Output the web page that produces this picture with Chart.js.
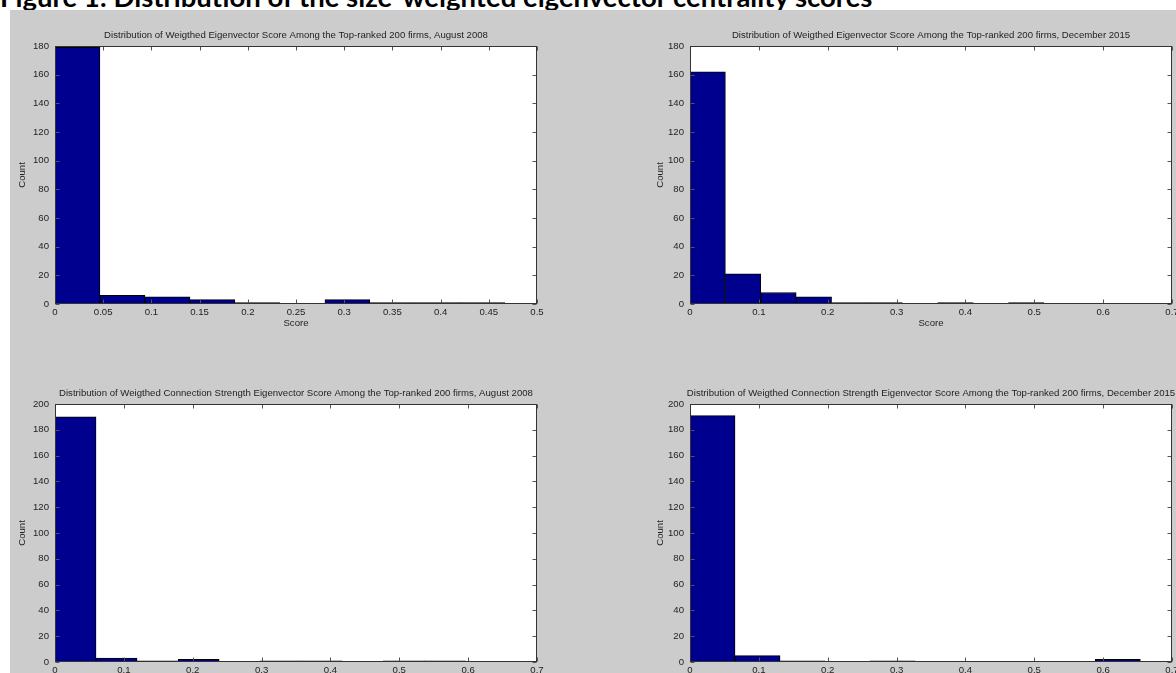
<!DOCTYPE html>
<html>
<head>
<meta charset="utf-8">
<title>Figure 1</title>
<script src="https://cdn.jsdelivr.net/npm/chart.js@4.4.1/dist/chart.umd.min.js"></script>
<style>
    body { margin: 0; width: 1176px; height: 673px; overflow: hidden; background: #fff; position: relative; }
    #heading { position: absolute; left: 0; top: -17px; font: bold 27.5px Lato, sans-serif; line-height: 27px; white-space: nowrap; color: #000; }
    #figure { position: absolute; left: 10px; top: 10px; width: 1166px; height: 663px; background: #cccccc; }
    canvas { position: absolute; }
    #c1 { left: 10px; top: 10px; }
    #c2 { left: 648px; top: 10px; }
    #c3 { left: 10px; top: 360px; }
    #c4 { left: 648px; top: 360px; }
</style>
</head>
<body>
<div id="heading">Figure 1: Distribution of the size-weighted eigenvector centrality scores</div>
<div id="figure"></div>
<canvas id="c1" width="590" height="340"></canvas>
<canvas id="c2" width="528" height="340"></canvas>
<canvas id="c3" width="590" height="313"></canvas>
<canvas id="c4" width="528" height="313"></canvas>
<script>
    // histogram bins (centres) and counts
    const aug2008EigCenters = [0.0233, 0.0700, 0.1167, 0.1633, 0.2100, 0.2567, 0.3033, 0.3500, 0.3967, 0.4433];
    const aug2008EigCounts  = [179, 6, 5, 3, 1, 0, 3, 1, 1, 1];

    const dec2015EigCenters = [0.0257, 0.0771, 0.1285, 0.1799, 0.2313, 0.2827, 0.3341, 0.3855, 0.4369, 0.4883];
    const dec2015EigCounts  = [162, 21, 8, 5, 1, 1, 0, 1, 0, 1];

    const aug2008ConnCenters = [0.0298, 0.0894, 0.1490, 0.2086, 0.2682, 0.3278, 0.3874, 0.4470, 0.5066, 0.5662];
    const aug2008ConnCounts  = [190, 3, 1, 2, 0, 1, 1, 0, 1, 1];

    const dec2015ConnCenters = [0.0327, 0.0981, 0.1635, 0.2289, 0.2943, 0.3597, 0.4251, 0.4905, 0.5559, 0.6213];
    const dec2015ConnCounts  = [191, 5, 1, 0, 1, 0, 0, 0, 0, 2];

    const panelTitles = [
        'Distribution of Weigthed Eigenvector Score Among the Top-ranked 200 firms, August 2008',
        'Distribution of Weigthed Eigenvector Score Among the Top-ranked 200 firms, December 2015',
        'Distribution of Weigthed Connection Strength Eigenvector Score Among the Top-ranked 200 firms, August 2008',
        'Distribution of Weigthed Connection Strength Eigenvector Score Among the Top-ranked 200 firms, December 2015'
    ];

    // axis limits / tick steps
    const xMax   = [0.5, 0.7, 0.7, 0.7];
    const xStep  = [0.05, 0.1, 0.1, 0.1];
    const yMax   = [180, 180, 200, 200];
    const yStep  = [20, 20, 20, 20];

    const FONT = 'Liberation Sans, Arial, sans-serif';
    const FONT_SIZE = 9.6;
    const TEXT = '#1e1e1e';
    const BAR = '#00008f';

    Chart.defaults.font.family = FONT;
    Chart.defaults.font.size = FONT_SIZE;
    Chart.defaults.color = TEXT;

    // white axes box, inward ticks on all four sides and the axes title (MATLAB look)
    const matlabAxes = {
        id: 'matlabAxes',
        beforeDatasetsDraw(chart) {
            const { ctx, chartArea: a } = chart;
            ctx.save();
            ctx.fillStyle = '#fff';
            ctx.fillRect(a.left, a.top, a.right - a.left, a.bottom - a.top);
            ctx.restore();
        },
        afterDatasetsDraw(chart, args, opts) {
            const { ctx, chartArea: a, scales: { x, y } } = chart;
            const tl = 4;
            const L = Math.round(a.left) + 0.5, R = Math.round(a.right) - 0.5;
            const T = Math.round(a.top) + 0.5, B = Math.round(a.bottom) - 0.5;
            ctx.save();
            ctx.lineWidth = 1;
            ctx.strokeStyle = '#555';
            ctx.beginPath();
            x.ticks.forEach(t => {
                const px = Math.round(x.getPixelForValue(t.value)) + 0.5;
                ctx.moveTo(px, B); ctx.lineTo(px, B - tl);
                ctx.moveTo(px, T); ctx.lineTo(px, T + tl);
            });
            y.ticks.forEach(t => {
                const py = Math.round(y.getPixelForValue(t.value)) + 0.5;
                ctx.moveTo(L, py); ctx.lineTo(L + tl, py);
                ctx.moveTo(R, py); ctx.lineTo(R - tl, py);
            });
            ctx.stroke();
            ctx.strokeStyle = '#333';
            ctx.strokeRect(L, T, R - L, B - T);

            ctx.fillStyle = TEXT;
            ctx.font = FONT_SIZE + 'px ' + FONT;
            ctx.textAlign = 'center';
            ctx.textBaseline = 'middle';
            ctx.fillText(opts.title, (a.left + a.right) / 2, a.top - 10.5);
            ctx.restore();
        }
    };

    function makePanel(id, i, centers, counts, layout) {
        return new Chart(document.getElementById(id), {
            type: 'bar',
            data: {
                datasets: [{
                    data: centers.map((c, k) => ({ x: c, y: counts[k] })),
                    backgroundColor: BAR,
                    borderColor: '#000',
                    borderWidth: 1,
                    borderSkipped: false,
                    barPercentage: 1,
                    categoryPercentage: 1
                }]
            },
            options: {
                responsive: false,
                animation: false,
                events: [],
                layout: { padding: layout.padding },
                plugins: {
                    legend: { display: false },
                    tooltip: { enabled: false },
                    matlabAxes: { title: panelTitles[i] }
                },
                scales: {
                    x: {
                        type: 'linear',
                        offset: false,
                        min: 0,
                        max: xMax[i],
                        grid: { display: false, drawTicks: false, offset: false },
                        border: { display: false },
                        ticks: {
                            stepSize: xStep[i],
                            padding: 3,
                            autoSkip: false,
                            maxRotation: 0,
                            color: TEXT,
                            callback: v => parseFloat(v.toFixed(2))
                        },
                        title: {
                            display: layout.scoreLabel,
                            text: 'Score',
                            color: TEXT,
                            padding: { top: 0, bottom: 21 }
                        },
                        afterFit: s => { s.height = layout.xHeight; s.paddingLeft = 0; s.paddingRight = 0; }
                    },
                    y: {
                        min: 0,
                        max: yMax[i],
                        grid: { display: false, drawTicks: false },
                        border: { display: false },
                        ticks: { stepSize: yStep[i], padding: 6, color: TEXT },
                        title: {
                            display: true,
                            text: 'Count',
                            color: TEXT,
                            padding: { top: 7, bottom: 0 }
                        },
                        afterFit: s => { s.width = layout.yWidth; s.paddingTop = 0; s.paddingBottom = 0; }
                    }
                }
            },
            plugins: [matlabAxes]
        });
    }

    makePanel('c1', 0, aug2008EigCenters, aug2008EigCounts,
        { padding: { left: 0, top: 36, right: 63, bottom: 0 }, yWidth: 45, xHeight: 46, scoreLabel: true });
    makePanel('c2', 1, dec2015EigCenters, dec2015EigCounts,
        { padding: { left: 0, top: 36, right: 4, bottom: 0 }, yWidth: 42, xHeight: 46, scoreLabel: true });
    makePanel('c3', 2, aug2008ConnCenters, aug2008ConnCounts,
        { padding: { left: 0, top: 44, right: 63, bottom: 0 }, yWidth: 45, xHeight: 11, scoreLabel: false });
    makePanel('c4', 3, dec2015ConnCenters, dec2015ConnCounts,
        { padding: { left: 0, top: 44, right: 4, bottom: 0 }, yWidth: 42, xHeight: 11, scoreLabel: false });
</script>
</body>
</html>
